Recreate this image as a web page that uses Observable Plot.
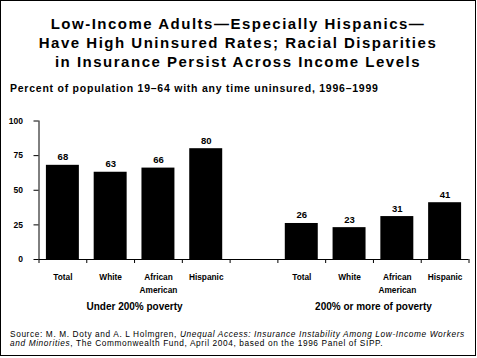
<!DOCTYPE html>
<html>
<head>
<meta charset="utf-8">
<script src="https://cdn.jsdelivr.net/npm/d3@7"></script>
<script src="https://cdn.jsdelivr.net/npm/@observablehq/plot@0.6"></script>
<style>
  html, body { margin: 0; padding: 0; background: #fff; }
  #wrap { position: relative; width: 476px; height: 356px; background: #fff; overflow: hidden;
          font-family: "Liberation Sans", Arial, sans-serif; color: #000; }
  #frame { position: absolute; left: 0; top: 0; width: 476px; height: 356px; box-sizing: border-box;
           border: 1px solid #000; pointer-events: none; }
  #title { position: absolute; left: 0; top: 13.5px; width: 476px; text-align: center;
           font-size: 15px; font-weight: bold; line-height: 19.2px; letter-spacing: 1.5px; }
  #subtitle { position: absolute; left: 10px; top: 82px; font-size: 10.5px; font-weight: bold;
              line-height: 12px; letter-spacing: 0.76px; white-space: nowrap; }
  #chart { position: absolute; left: 0; top: 110px; }
  #source { position: absolute; left: 10px; top: 330px; font-size: 8.3px; line-height: 8.8px;
            letter-spacing: 0.62px; white-space: nowrap; }
</style>
</head>
<body>
<div id="wrap">
  <div id="title">Low-Income Adults—Especially Hispanics—<br>Have High Uninsured Rates; Racial Disparities<br>in Insurance Persist Across Income Levels</div>
  <div id="subtitle">Percent of population 19–64 with any time uninsured, 1996–1999</div>
  <div id="chart"></div>
  <div id="source">Source: M. M. Doty and A. L Holmgren, <i>Unequal Access: Insurance Instability Among Low-Income Workers</i><br><i>and Minorities</i>, The Commonwealth Fund, April 2004, based on the 1996 Panel of SIPP.</div>
  <div id="frame"></div>
</div>
<script>
const categories = ["Total", "White", "African\nAmerican", "Hispanic"];
const groups = ["Under 200% poverty", "200% or more of poverty"];
const under200 = [68, 63, 66, 80];
const over200 = [26, 23, 31, 41];
const yTicks = [0, 25, 50, 75, 100];

// Slot layout: 4 bars, one empty slot, 4 bars
const seriesValues = [under200, over200];
const slotsPerGroup = categories.length + 1;
const nSlots = slotsPerGroup * groups.length - 1;
const rows = [];
seriesValues.forEach((vals, g) => {
  vals.forEach((v, k) => rows.push({slot: g * slotsPerGroup + k, category: categories[k], group: groups[g], value: v}));
});
const groupRows = groups.map((name, g) => ({name, center: g * slotsPerGroup + categories.length / 2}));
const inset = 0.155;

const chart = Plot.plot({
  width: 476,
  height: 210,
  marginTop: 10.5,
  marginBottom: 61,
  marginLeft: 38.5,
  marginRight: 7.5,
  style: {fontFamily: "'Liberation Sans', Arial, sans-serif", fontWeight: "bold", background: "transparent", overflow: "visible"},
  x: {domain: [0, nSlots], axis: null},
  y: {domain: [0, 100], axis: null},
  marks: [
    Plot.rectY(rows, {x1: d => d.slot + inset, x2: d => d.slot + 1 - inset, y: "value", fill: "black"}),
    Plot.ruleY([0], {stroke: "black", strokeWidth: 1}),
    Plot.ruleX([0], {stroke: "black", strokeWidth: 1}),
    Plot.axisY({ticks: yTicks, tickSize: 5, tickPadding: 11, fontSize: 8.5, label: null, stroke: "black", ariaLabel: "yaxis"}),
    Plot.axisX({ticks: d3.range(nSlots + 1), tickSize: 4, tickFormat: () => "", label: null, stroke: "black"}),
    Plot.text(rows, {x: d => d.slot + 0.5, y: "value", text: d => String(d.value), lineAnchor: "bottom", dy: -5, fontSize: 9.5, ariaLabel: "values"}),
    Plot.text(rows, {x: d => d.slot + 0.5, y: 0, text: "category", lineAnchor: "top", dy: 12, fontSize: 8.3, lineHeight: 1.5, ariaLabel: "categories"}),
    Plot.text(groupRows, {x: "center", y: 0, text: "name", lineAnchor: "top", dy: 43.5, fontSize: 10, ariaLabel: "groups"})
  ]
});
document.getElementById("chart").appendChild(chart);
d3.select(chart).selectAll('g[aria-label="values"] text').style("letter-spacing", "1.5px");
d3.select(chart).selectAll('g[aria-label="groups"] text').style("letter-spacing", "1.2px");
d3.select(chart).selectAll('g[aria-label="categories"] text').style("letter-spacing", "0.3px");
</script>
</body>
</html>
